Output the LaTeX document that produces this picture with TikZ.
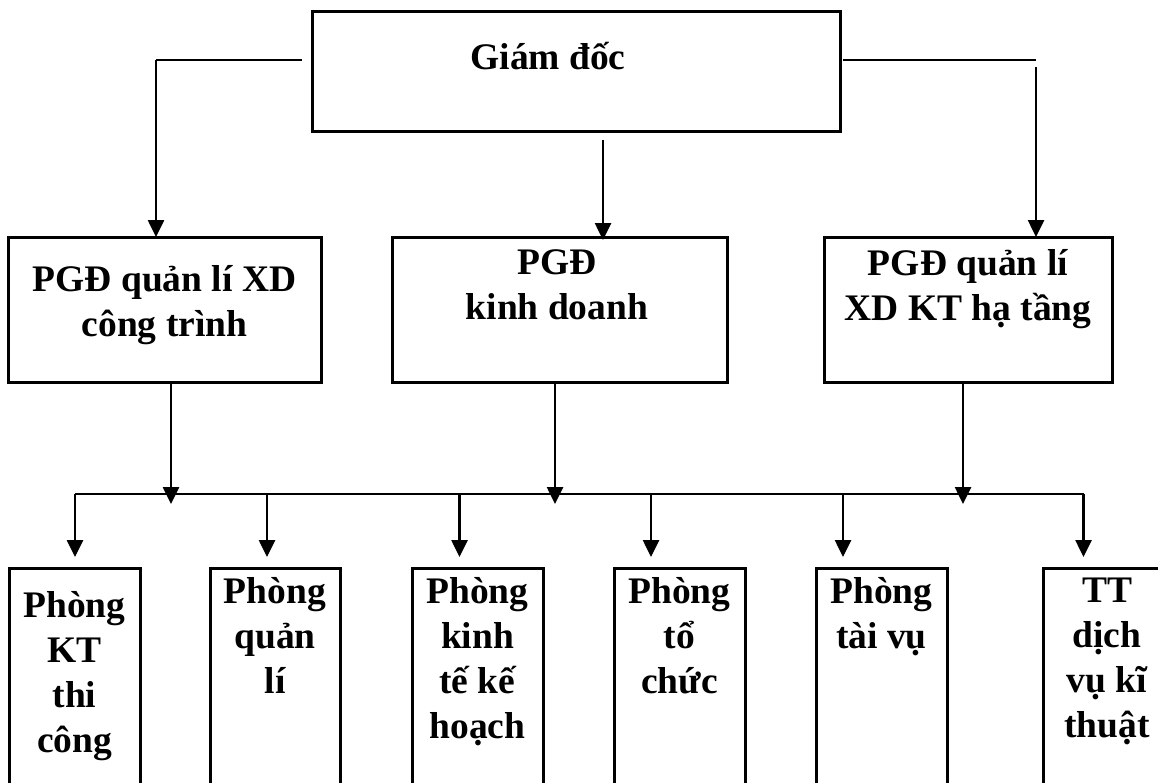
\documentclass[tikz,border=0pt]{standalone}
\usepackage{fontspec}
\setmainfont{Liberation Serif}
\usetikzlibrary{arrows.meta}
\begin{document}
\begin{tikzpicture}[x=1pt,y=-1pt,
  box/.style={draw, line width=3pt, inner sep=0pt, outer sep=0pt, anchor=north west},
  txt/.style={anchor=north, inner sep=0pt, align=center,
    font=\fontsize{37.5}{45}\selectfont\bfseries, execute at begin node=\strut},
  conn/.style={line width=2.4pt},
  thin/.style={line width=2pt},
  arr/.style={line width=2.6pt, -{Triangle[length=17pt,width=16pt]}}]
\clip (0,0) rectangle (1158,782);

% director
\node[box, minimum width=528, minimum height=120] (gd) at (312,11) {};
\node[txt] (gdt) at (548,38) {Giám đốc};

% deputy directors
\node[box, minimum width=313, minimum height=145] (p1) at (8,237) {};
\node[box, minimum width=335, minimum height=145] (p2) at (392,237) {};
\node[box, minimum width=288, minimum height=145] (p3) at (824,237) {};
\node[txt] (p1t) at (164.5,265.5) {PGĐ quản lí XD\\công trình};
\node[txt] (p2t) at (557,249) {PGĐ\\kinh doanh};
\node[txt] (p3t) at (968,249.5) {PGĐ quản lí\\XD KT hạ tầng};

% departments
\node[box, minimum width=131, minimum height=240] (b1) at (9,568) {};
\node[box, minimum width=130, minimum height=240] (b2) at (210,568) {};
\node[box, minimum width=131, minimum height=240] (b3) at (412,568) {};
\node[box, minimum width=131, minimum height=240] (b4) at (614,568) {};
\node[box, minimum width=131, minimum height=240] (b5) at (816,568) {};
\node[box, minimum width=131, minimum height=240] (b6) at (1043,568) {};
\node[txt] (b1t) at (74.5,591.5) {Phòng\\KT\\thi\\công};
\node[txt] (b2t) at (275,577.5) {Phòng\\quản\\lí};
\node[txt] (b3t) at (477.5,577.5) {Phòng\\kinh\\tế kế\\hoạch};
\node[txt] (b4t) at (679.5,577.5) {Phòng\\tổ\\chức};
\node[txt] (b5t) at (881.5,577.5) {Phòng\\tài vụ};
\node[txt] (b6t) at (1107,577.5) {TT\\dịch\\vụ kĩ\\thuật};

% director to deputies
\coordinate (gl) at (302,60);
\coordinate (lx) at (156,0);
\draw[thin] (gl) -- (lx |- gl);
\draw[arr] (lx |- gl) -- (lx |- p1.north);
\coordinate (gm) at (603,140);
\draw[arr] (gm) -- ([yshift=-3pt]gm |- p2.north);
\coordinate (gr1) at (843,60);
\coordinate (gr2) at (1036,60);
\coordinate (gr3) at (1036,67);
\draw[thin] (gr1) -- (gr2);
\draw[arr] (gr3) -- (gr3 |- p3.north);

% bus line
\coordinate (busL) at (75,494);
\coordinate (busR) at (1083.5,494);
\draw[conn] (busL) -- (busR);

% deputies to bus
\coordinate (t1) at (171,504);
\coordinate (t2) at (555,504);
\coordinate (t3) at (963,504);
\draw[arr] (t1 |- p1.south) -- (t1);
\draw[arr] (t2 |- p2.south) -- (t2);
\draw[arr] (t3 |- p3.south) -- (t3);

% bus to departments, tips stopping short of the boxes
\foreach \b/\x in {b1/75, b2/267, b3/459.5, b4/651, b5/843, b6/1083.5}{
  \coordinate (a\b) at (\x,0);
  \draw[arr] (a\b |- busL) -- ([yshift=11pt]a\b |- \b.north);
}
\end{tikzpicture}
\end{document}
